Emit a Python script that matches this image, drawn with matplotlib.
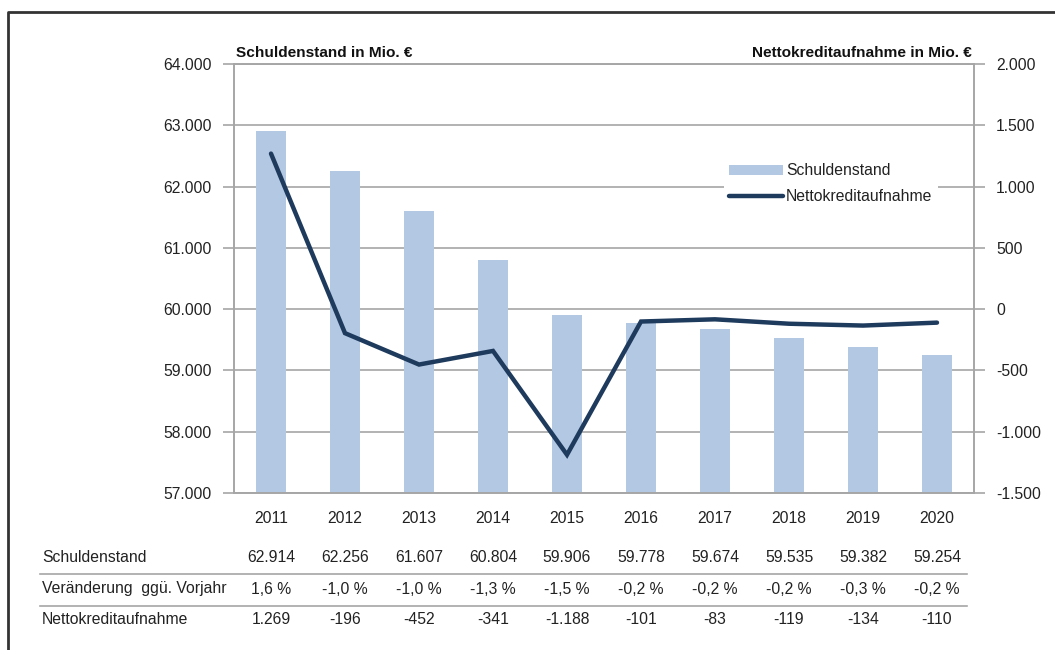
import numpy as np
import matplotlib.pyplot as plt
import matplotlib.transforms as mtransforms
from matplotlib.lines import Line2D
from matplotlib.patches import Patch
from matplotlib.ticker import FuncFormatter

plt.rcParams['font.family'] = ['Liberation Sans Narrow', 'Liberation Sans', 'DejaVu Sans']

# Data
years = ["2011", "2012", "2013", "2014", "2015", "2016", "2017", "2018", "2019", "2020"]
schuldenstand = [62914, 62256, 61607, 60804, 59906, 59778, 59674, 59535, 59382, 59254]
nettokredit = [1269, -196, -452, -341, -1188, -101, -83, -119, -134, -110]
veraenderung = ["1,6 %", "-1,0 %", "-1,0 %", "-1,3 %", "-1,5 %",
                "-0,2 %", "-0,2 %", "-0,2 %", "-0,3 %", "-0,2 %"]
row_labels = ["Schuldenstand", "Veränderung  ggü. Vorjahr", "Nettokreditaufnahme"]

bar_color = "#b3c8e3"
line_color = "#1e3a5c"
grid_color = "#a6a6a6"
text_color = "#222222"
fs = 11.3

W, H = 1055, 650
fig = plt.figure(figsize=(W / 100, H / 100), dpi=100)

def fx(px):
    return px / W

def fy(py):
    return 1 - py / H

def de_num(v):
    return f"{int(v):,}".replace(",", ".")

ax = fig.add_axes([fx(234), fy(493), fx(974) - fx(234), fy(64) - fy(493)])
ax2 = ax.twinx()

x = np.arange(len(years))

# Bars (left axis)
ax.bar(x, schuldenstand, width=0.41, color=bar_color, zorder=2)
ax.set_ylim(57000, 64000)
ax.set_xlim(-0.5, len(years) - 0.5)
ax.set_yticks(np.arange(57000, 64001, 1000))
ax.yaxis.set_major_formatter(FuncFormatter(lambda v, p: de_num(v)))
ax.grid(axis="y", color=grid_color, linewidth=1.2, zorder=0)
ax.set_axisbelow(True)
ax.set_xticks(x)
ax.set_xticklabels(years)
ax.tick_params(axis="x", length=0, pad=13, labelsize=fs, colors=text_color)
ax.tick_params(axis="y", direction="out", length=8, width=1.2, color=grid_color,
               labelsize=fs, labelcolor=text_color, pad=8)

# Line (right axis)
ax2.plot(x, nettokredit, color=line_color, linewidth=3.2, solid_capstyle="round",
         solid_joinstyle="miter", zorder=3)
ax2.set_ylim(-1500, 2000)
ax2.set_yticks(np.arange(-1500, 2001, 500))
ax2.yaxis.set_major_formatter(FuncFormatter(lambda v, p: de_num(v)))
ax2.tick_params(axis="y", direction="out", length=8, width=1.2, color=grid_color,
                labelsize=fs, labelcolor=text_color, pad=8)

for a in (ax, ax2):
    for s in a.spines.values():
        s.set_color(grid_color)
        s.set_linewidth(1.2)

# Axis titles
fig.text(fx(236), fy(53), "Schuldenstand in Mio. €", fontsize=11.1, fontweight="bold",
         ha="left", va="center", color="#111111")
fig.text(fx(972), fy(53), "Nettokreditaufnahme in Mio. €", fontsize=11.1, fontweight="bold",
         ha="right", va="center", color="#111111")

# Legend
handles = [Patch(facecolor=bar_color, edgecolor="none"),
           Line2D([0], [0], color=line_color, linewidth=3.2, solid_capstyle="round")]
leg = ax2.legend(handles, ["Schuldenstand", "Nettokreditaufnahme"],
                 loc="upper left", bbox_to_anchor=(fx(724), fy(158)),
                 bbox_transform=fig.transFigure, frameon=True, fancybox=False,
                 fontsize=fs, handlelength=3.4, handleheight=0.6, handletextpad=0.2,
                 labelspacing=0.7, borderpad=0.35, borderaxespad=0)
leg.get_frame().set_facecolor("white")
leg.get_frame().set_edgecolor("none")
leg.get_frame().set_alpha(1)
for t in leg.get_texts():
    t.set_color(text_color)

# Table below chart
trans = mtransforms.blended_transform_factory(ax.transData, fig.transFigure)
row_y = [557, 589, 620]
rows = [[de_num(v) for v in schuldenstand],
        veraenderung,
        [de_num(v) for v in nettokredit]]
for ry, label, vals in zip(row_y, row_labels, rows):
    fig.text(fx(42), fy(ry), label, fontsize=fs, ha="left", va="center", color=text_color)
    for xi, v in zip(x, vals):
        ax.text(xi, fy(ry), v, transform=trans, fontsize=fs, ha="center", va="center",
                color=text_color, clip_on=False)

for ly in (574, 606):
    fig.add_artist(Line2D([fx(40), fx(967)], [fy(ly), fy(ly)], color=grid_color,
                          linewidth=1.2, transform=fig.transFigure))

# Outer frame (left and top edges visible)
fig.add_artist(Line2D([fx(8), fx(8), fx(1055)], [fy(650), fy(12), fy(12)],
                      color="#333333", linewidth=2, transform=fig.transFigure))

fig.savefig("out.png", dpi=100)
